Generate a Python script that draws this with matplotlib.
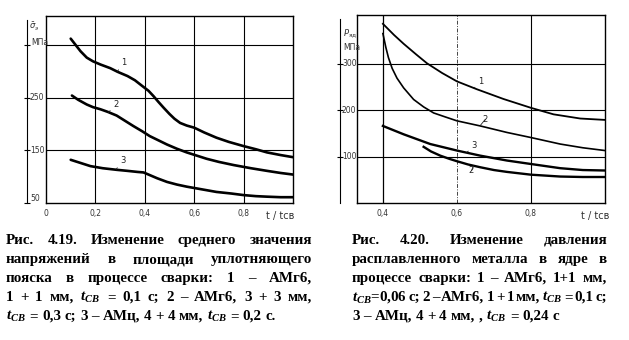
import matplotlib
matplotlib.use("Agg")
import matplotlib.pyplot as plt
from matplotlib.transforms import blended_transform_factory

plt.rcParams["mathtext.it"] = "Liberation Serif:italic:bold"
plt.rcParams["mathtext.rm"] = "Liberation Serif:bold"

# --- Fig. 4.19: mean stress in the sealing belt ---
stress_t1 = [0.10, 0.12, 0.14, 0.165, 0.19, 0.22, 0.26, 0.29, 0.33, 0.36, 0.39, 0.415,
             0.435, 0.455, 0.476, 0.50, 0.52, 0.543, 0.57, 0.60, 0.64, 0.69, 0.74, 0.80,
             0.85, 0.895, 0.95, 1.0]
stress_v1 = [362, 350, 338, 326, 319, 313, 306, 299, 291, 283, 272, 263,
             253, 242, 231, 219, 210, 202, 197, 193, 184, 174, 166, 158,
             152, 146, 141, 137]
stress_t2 = [0.105, 0.13, 0.165, 0.19, 0.22, 0.25, 0.286, 0.32, 0.354, 0.39, 0.42, 0.455,
             0.49, 0.53, 0.57, 0.61, 0.65, 0.70, 0.76, 0.83, 0.895, 0.95, 1.0]
stress_v2 = [254, 246, 237, 232, 228, 223, 216, 206, 196, 186, 177, 169,
             161, 153, 146, 140, 134, 128, 122, 116, 111, 107, 104]
stress_t3 = [0.10, 0.14, 0.18, 0.23, 0.286, 0.33, 0.37, 0.395, 0.42, 0.45, 0.49, 0.53,
             0.57, 0.63, 0.69, 0.75, 0.80, 0.85, 0.895, 0.95, 1.0]
stress_v3 = [132, 126, 120, 116, 113, 111, 109, 108, 103, 97, 90, 85,
             81, 76, 71, 68, 65, 63, 62, 61, 61]
stress_yticks = [50, 150, 250]
stress_xticks = [0, 0.2, 0.4, 0.6, 0.8]
stress_xlabels = ["0", "0,2", "0,4", "0,6", "0,8"]

# --- Fig. 4.20: molten metal pressure in the nugget ---
press_t1 = [0.40, 0.43, 0.456, 0.49, 0.519, 0.56, 0.60, 0.654, 0.726, 0.80, 0.861, 0.933, 1.0]
press_v1 = [386, 362, 343, 320, 301, 280, 262, 245, 224, 205, 191, 182, 179]
press_t2 = [0.40, 0.408, 0.415, 0.425, 0.438, 0.456, 0.483, 0.51, 0.537, 0.57, 0.60, 0.663,
            0.735, 0.80, 0.879, 0.94, 1.0]
press_v2 = [365, 335, 313, 290, 269, 248, 223, 207, 194, 185, 177, 166,
            152, 141, 127, 119, 113]
press_t3 = [0.40, 0.456, 0.528, 0.60, 0.663, 0.735, 0.80, 0.879, 0.94, 1.0]
press_v3 = [166, 148, 127, 113, 102, 91.5, 84, 75, 71, 70]
press_t4 = [0.51, 0.53, 0.555, 0.58, 0.60, 0.63, 0.663, 0.70, 0.735, 0.80, 0.879, 0.94, 1.0]
press_v4 = [121, 111, 102, 95, 90, 83, 77, 71, 67, 61, 57, 56, 56]
press_yticks = [100, 200, 300]
press_xticks = [0.4, 0.6, 0.8]
press_xlabels = ["0,4", "0,6", "0,8"]

caption_left = [
    "Рис. 4.19. Изменение среднего значения",
    "напряжений в площади уплотняющего",
    "пояска в процессе сварки: 1 – АМг6,",
    "1 + 1 мм, $t_{CB}$ = 0,1 с; 2 – АМг6, 3 + 3 мм,",
    "$t_{CB}$ = 0,3 с; 3 – АМц, 4 + 4 мм, $t_{CB}$ = 0,2 с.",
]
caption_right = [
    "Рис. 4.20. Изменение давления",
    "расплавленного металла в ядре в",
    "процессе сварки: 1 – АМг6, 1+1 мм,",
    "$t_{CB}$=0,06 с; 2 – АМг6, 1 + 1 мм, $t_{CB}$ = 0,1 с;",
    "3 – АМц, 4 + 4 мм, , $t_{CB}$ = 0,24 с",
]

W, H = 629, 340
INK = "#222222"
TICK_FONT = dict(family=["Liberation Sans Narrow", "DejaVu Sans"], fontsize=5.5, color="#333333")

fig = plt.figure(figsize=(W / 100, H / 100), dpi=100)
fig.patch.set_facecolor("white")


def px_axes(x0, y0, x1, y1):
    return fig.add_axes([x0 / W, 1 - y1 / H, (x1 - x0) / W, (y1 - y0) / H])


def setup_axes(ax, xlim, ylim, xticks, xlabels, yticks, grid_y, offset_px, width_px):
    ax.set_xlim(*xlim)
    ax.set_ylim(*ylim)
    for s in ax.spines.values():
        s.set_linewidth(1.0)
        s.set_color("black")
    ax.set_xticks(xticks, xlabels)
    ax.set_yticks([])
    ax.tick_params(axis="x", length=0, pad=4, labelsize=TICK_FONT["fontsize"],
                   labelcolor=TICK_FONT["color"])
    for lab in ax.get_xticklabels():
        lab.set_family(TICK_FONT["family"])
    for y in grid_y:
        ax.axhline(y, color="black", lw=0.8, zorder=1)

    # detached y axis to the left of the frame
    tr = blended_transform_factory(ax.transAxes, ax.transData)
    xo = -offset_px / width_px
    ax.plot([xo, xo], [ylim[0], ylim[1] - (ylim[1] - ylim[0]) * 0.02], color="black",
            lw=0.8, transform=tr, clip_on=False)
    ax.plot([xo] * len(yticks), yticks, ls="none", marker="_", ms=5, mew=0.8,
            color="black", transform=tr, clip_on=False)
    return tr, xo


def curve_label(ax, text, xy, xytext):
    ax.annotate(text, xy=xy, xytext=xytext, fontsize=6, color=INK,
                family="DejaVu Sans", ha="left", va="bottom",
                arrowprops=dict(arrowstyle="-", lw=0.6, color=INK, shrinkA=0, shrinkB=0))


# left chart
ax1 = px_axes(46, 16, 293, 203)
tr1, xo1 = setup_axes(ax1, (0, 1.0), (50, 405), stress_xticks, stress_xlabels,
                      stress_yticks + [350], [150, 250, 350], 19, 247)
for x in [0.2, 0.4, 0.6, 0.8]:
    ax1.axvline(x, color="black", lw=0.8, zorder=1)
for t, v in [(stress_t1, stress_v1), (stress_t2, stress_v2), (stress_t3, stress_v3)]:
    ax1.plot(t, v, color="black", lw=1.9, solid_capstyle="round", solid_joinstyle="round",
             zorder=3)
for y in stress_yticks:
    ax1.text(xo1 + 3 / 247, y + (8 if y == 50 else 0), str(y), transform=tr1, ha="left",
             va="center", **TICK_FONT)
ax1.text(xo1 + 2 / 247, 385, r"$\bar{\sigma}_{э}$", transform=tr1, ha="left", va="center",
         fontsize=6, color="#333333")
ax1.text(xo1 + 4 / 247, 354, "МПа", transform=tr1, ha="left", va="center", **TICK_FONT)
ax1.text(0.947, -0.045, "t / tсв", transform=ax1.transAxes, ha="center", va="top",
         family="DejaVu Sans", fontsize=7, color="#333333")
curve_label(ax1, "1", (0.289, 300), (0.305, 308))
curve_label(ax1, "2", (0.253, 222), (0.271, 228))
curve_label(ax1, "3", (0.284, 114), (0.300, 122))

# right chart
ax2 = px_axes(357, 15, 605, 203)
tr2, xo2 = setup_axes(ax2, (0.33, 1.0), (0, 405), press_xticks, press_xlabels,
                      press_yticks, [100, 200, 300], 17, 248)
ax2.axvline(0.4, color="black", lw=0.9, zorder=1)
ax2.axvline(0.6, color="#444444", lw=0.7, ls=(0, (4, 1.5, 1, 1.5)), zorder=1)
ax2.axvline(0.8, color="black", lw=0.8, zorder=1)
ax2.plot(press_t1, press_v1, color="black", lw=1.3, solid_joinstyle="round", zorder=3)
ax2.plot(press_t2, press_v2, color="black", lw=1.2, solid_joinstyle="round", zorder=3)
ax2.plot(press_t3, press_v3, color="black", lw=1.7, solid_joinstyle="round", zorder=3)
ax2.plot(press_t4, press_v4, color="black", lw=1.7, solid_joinstyle="round", zorder=3)
for y in press_yticks:
    ax2.text(xo2 + 2 / 248, y, str(y), transform=tr2, ha="left", va="center", **TICK_FONT)
ax2.text(xo2 + 3 / 248, 365, r"$P_{\mathrm{яд}}$", transform=tr2, ha="left", va="center",
         fontsize=6, color="#333333")
ax2.text(xo2 + 3 / 248, 335, "МПа", transform=tr2, ha="left", va="center", **TICK_FONT)
ax2.text(0.96, -0.045, "t / tсв", transform=ax2.transAxes, ha="center", va="top",
         family="DejaVu Sans", fontsize=7, color="#333333")
curve_label(ax2, "1", (0.647, 248), (0.656, 252))
curve_label(ax2, "2", (0.663, 167), (0.670, 171))
curve_label(ax2, "3", (0.627, 109), (0.638, 114))
curve_label(ax2, "2", (0.645, 80), (0.632, 60))

# justified bold captions under both charts
CAP = dict(family="Liberation Serif", weight="bold", fontsize=10.8, color="black",
           va="baseline", ha="left", math_fontfamily="custom")


def justified_caption(lines, x0, x1, y0, dy):
    renderer = fig.canvas.get_renderer()
    space = CAP["fontsize"] * 100 / 72 * 0.25
    for i, line in enumerate(lines):
        words = line.split(" ")
        y = 1 - (y0 + i * dy) / H
        texts = [fig.text(0, y, w, **CAP) for w in words]
        widths = [t.get_window_extent(renderer).width for t in texts]
        last = i == len(lines) - 1
        gap = space if last else (x1 - x0 - sum(widths)) / (len(words) - 1)
        x = x0
        for t, w in zip(texts, widths):
            t.set_x(x / W)
            x += w + gap


justified_caption(caption_left, 6, 312, 244, 19)
justified_caption(caption_right, 352, 607, 244, 19)

fig.savefig("out.png", dpi=100)
